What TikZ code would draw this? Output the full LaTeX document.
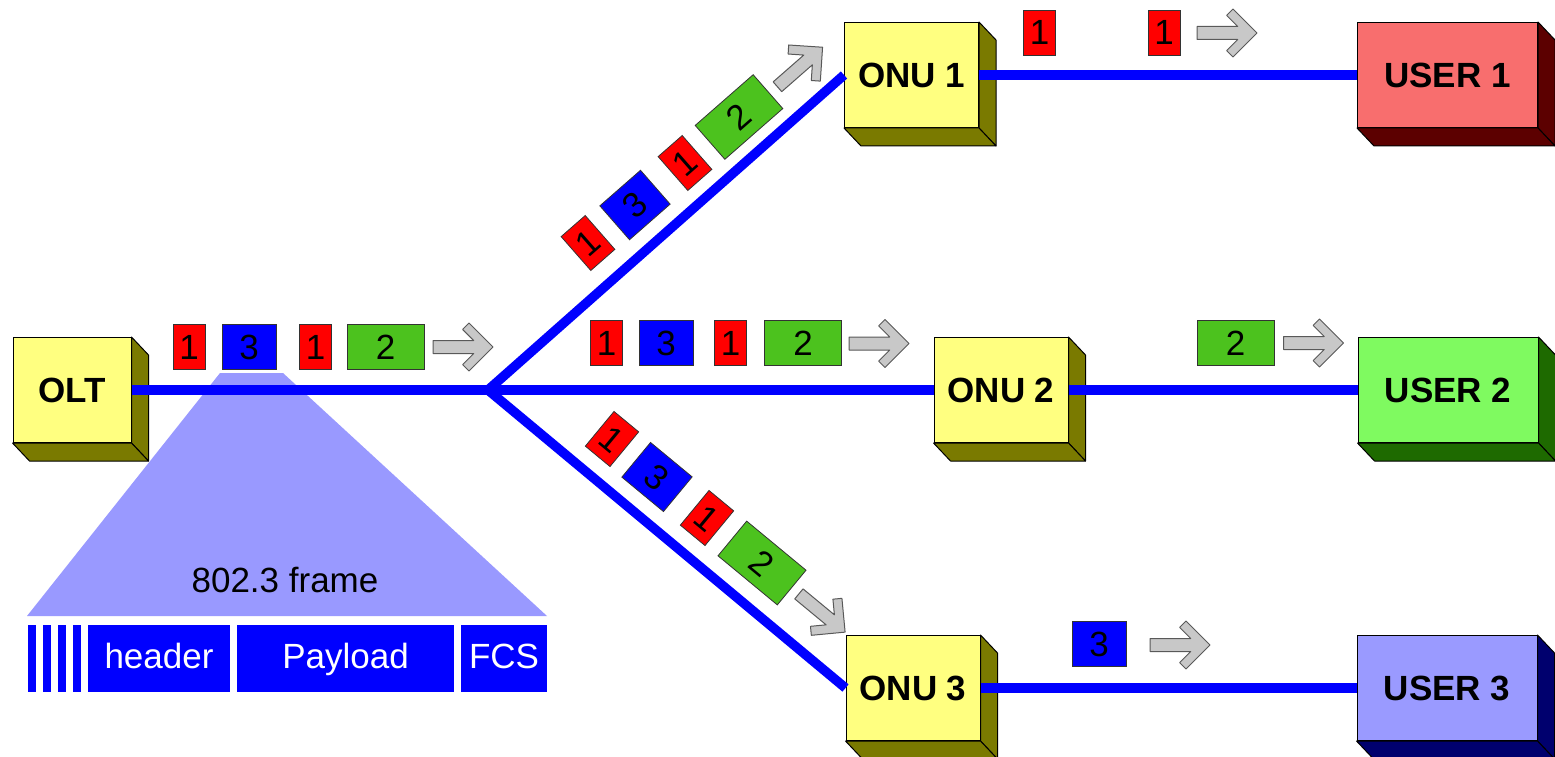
\documentclass[tikz,border=0pt]{standalone}
\usepackage{fontspec}
\setmainfont{Liberation Sans}

\definecolor{onu color}{HTML}{FFFF80}
\definecolor{onu shade}{HTML}{7A7A00}
\definecolor{user1 color}{HTML}{F86E6E}
\definecolor{user1 shade}{HTML}{5C0000}
\definecolor{user2 color}{HTML}{7FFA60}
\definecolor{user2 shade}{HTML}{1E6A00}
\definecolor{user3 color}{HTML}{9A9AFF}
\definecolor{user3 shade}{HTML}{00006E}
\definecolor{fibre color}{HTML}{0000FF}
\definecolor{frame color}{HTML}{9999FF}
\definecolor{packet red}{HTML}{FF0000}
\definecolor{packet blue}{HTML}{0000FF}
\definecolor{packet green}{HTML}{4CC21E}
\definecolor{arrow color}{HTML}{C8C8C8}

\tikzset{
    x={1pt},
    y={-1pt},
    box front/.style={
        draw=black, fill={#1},
        line width={1pt},
        minimum width={134},
        minimum height={105},
        inner sep=0pt,
        font={\fontsize{35}{40}\selectfont\bfseries},
    },
    user box/.style={
        box front={#1},
        minimum width={180},
    },
    box side/.style={
        draw=black, fill={#1},
        line width={1pt},
        line join=round,
    },
    fibre/.style={
        draw=fibre color,
        line width={9.5pt},
        line join=round,
    },
    packet/.style={
        draw=black!80, fill={#1},
        line width={0.8pt},
        minimum height={45},
        inner sep=0pt,
        text height={25},
        text depth={0},
        font={\fontsize{35}{35}\selectfont},
    },
    packet one/.style={packet=packet red, minimum width={32}},
    packet three/.style={packet=packet blue, minimum width={54}},
    packet two/.style={packet=packet green, minimum width={77}},
    frame field/.style={
        fill=fibre color, text=white,
        minimum height={67},
        inner sep=0pt,
        text height={26},
        text depth={7},
        font={\fontsize{35}{35}\selectfont},
    },
    fwd arrow/.pic={
        \path[draw=black!65, fill=arrow color, line width={1pt}, line join=round]
            (-30,-6.5) -- (10.7,-6.5) -- (-0.4,-17.6) -- (6,-24) -- (30,0)
            -- (6,24) -- (-0.4,17.6) -- (10.7,6.5) -- (-30,6.5) -- cycle;
    },
}

\begin{document}
\begin{tikzpicture}
\useasboundingbox (0,0) rectangle (1555,757);
% frame fan
\path[fill=frame color] (220,373) -- (283,373) -- (547,616) -- (27,616) -- cycle;
\node[font={\fontsize{35}{35}\selectfont}] (frame label) at (285,580) {802.3 frame};
\foreach \x in {28,43,58,73}
    \path[fill=fibre color] (\x,625) rectangle ++(8,67);
\node[frame field, minimum width={142}] (header) at (159,658.5) {header};
\node[frame field, minimum width={217}] (payload) at (345.5,658.5) {Payload};
\node[frame field, minimum width={86}] (fcs) at (504,658.5) {FCS};
% boxes
\node[box front={onu color}, minimum width={118}] (olt) at (72,390) {OLT};
\node[box front={onu color}] (onu1) at (911.5,75) {ONU 1};
\node[box front={onu color}] (onu2) at (1001,390) {ONU 2};
\node[box front={onu color}] (onu3) at (913,688) {ONU 3};
\node[user box={user1 color}] (user1) at (1447.5,75) {USER 1};
\node[user box={user2 color}] (user2) at (1448,390) {USER 2};
\node[user box={user3 color}] (user3) at (1447,688) {USER 3};
\foreach \b/\s in {olt/onu shade, onu1/onu shade, onu2/onu shade, onu3/onu shade,
        user1/user1 shade, user2/user2 shade, user3/user3 shade} {
    \path[box side={\s}] (\b.north east) -- ++(17,18) -- ([shift={(17,18)}]\b.south east) -- (\b.south east) -- cycle;
    \path[box side={\s}] (\b.south west) -- ++(17,18) -- ([shift={(17,18)}]\b.south east) -- (\b.south east) -- cycle;
}
% fibres
\coordinate (split) at (488,390);
\path[fibre] (olt.east) -- (onu2.west);
\path[fibre] (onu1.west) -- (split) -- (onu3.west);
\path[fibre] (onu1.east) -- (user1.west);
\path[fibre] (onu2.east) -- (user2.west);
\path[fibre] (onu3.east) -- (user3.west);
% packets leaving the OLT
\node[packet one] (olt p1) at (189,346.5) {1};
\node[packet three] (olt p2) at (249,346.5) {3};
\node[packet one] (olt p3) at (315.5,346.5) {1};
\node[packet two] (olt p4) at (385.5,346.5) {2};
\pic at (463,347) {fwd arrow};
% packets towards ONU 1
\node[packet one, rotate=41.2] (up p1) at (588,243) {1};
\node[packet three, rotate=41.2] (up p2) at (635,205) {3};
\node[packet one, rotate=41.2] (up p3) at (685,163) {1};
\node[packet two, rotate=41.2] (up p4) at (739,117) {2};
\pic[rotate=41.2] at (800,67) {fwd arrow};
% packets towards ONU 2
\node[packet one] (mid p1) at (606.5,343) {1};
\node[packet three] (mid p2) at (666,343) {3};
\node[packet one] (mid p3) at (730.5,343) {1};
\node[packet two] (mid p4) at (803,343) {2};
\pic at (879,343.5) {fwd arrow};
% packets towards ONU 3
\node[packet one, rotate=-39.6] (low p1) at (612,439) {1};
\node[packet three, rotate=-39.6] (low p2) at (657,477) {3};
\node[packet one, rotate=-39.6] (low p3) at (707,518) {1};
\node[packet two, rotate=-39.6] (low p4) at (762,563) {2};
\pic[rotate=-39.6] at (822,613) {fwd arrow};
% packets kept by each ONU
\node[packet one] (onu1 drop) at (1039.5,32.5) {1};
\node[packet one] (user1 p) at (1164,32.5) {1};
\pic at (1227,33) {fwd arrow};
\node[packet two] (user2 p) at (1235.5,343) {2};
\pic at (1313.5,343) {fwd arrow};
\node[packet three] (user3 p) at (1099,644) {3};
\pic at (1180,645) {fwd arrow};
\end{tikzpicture}
\end{document}
